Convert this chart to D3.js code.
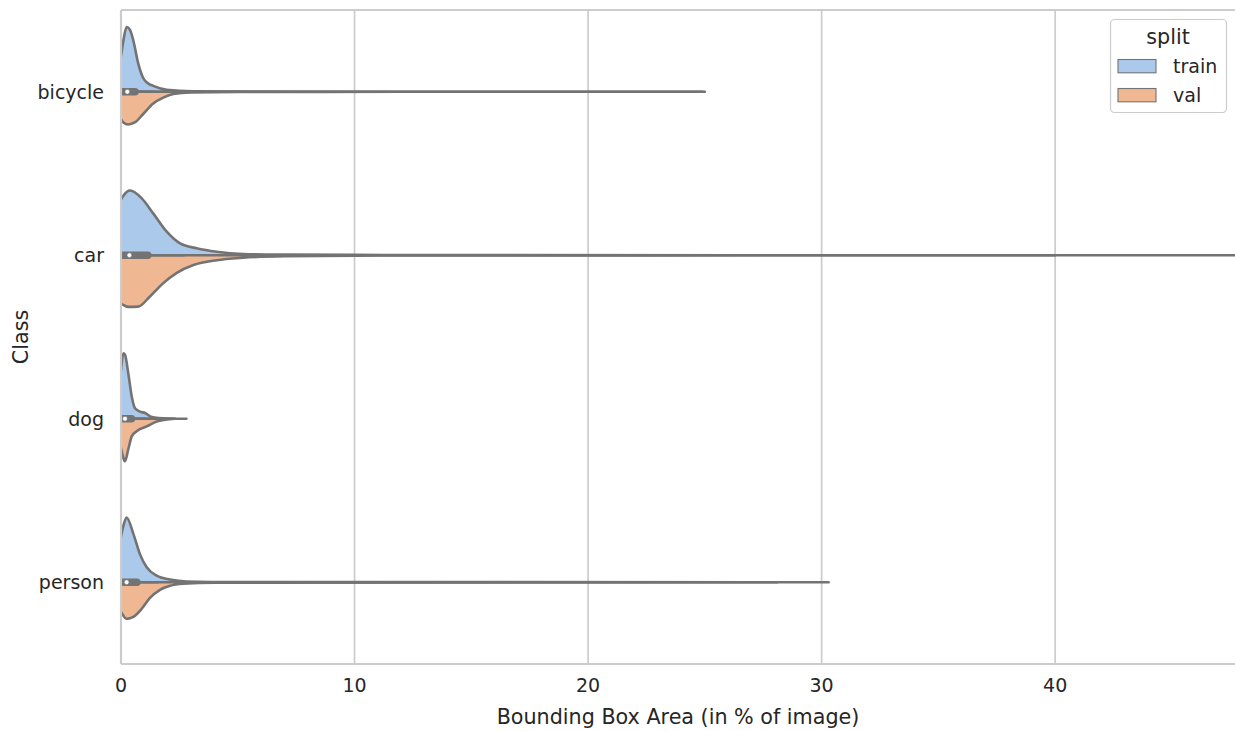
<!DOCTYPE html>
<html>
<head>
<meta charset="utf-8">
<script src="https://cdn.jsdelivr.net/npm/d3@7"></script>
<style>
  html, body { margin: 0; padding: 0; background: #ffffff; }
  svg { display: block; font-family: "DejaVu Sans", sans-serif; }
</style>
</head>
<body>
<svg id="chart" width="1235" height="731"></svg>
<script>
// ---------- data ----------
const categories = ["bicycle", "car", "dog", "person"];
const splits = ["train", "val"];
const xTicks = [0, 10, 20, 30, 40];

// density profiles: [value (% of image), relative density]
const bicycleTrain = [[-0.15,0.3],[0,0.55],[0.1,0.78],[0.24,0.99],[0.38,0.95],[0.53,0.78],[0.74,0.43],[0.95,0.21],[1.15,0.13],[1.38,0.09],[1.96,0.03],[3.1,0.008],[6,0.002],[12,0.001],[25,0]];
const bicycleVal   = [[-0.15,0.3],[0,0.42],[0.1,0.47],[0.31,0.5],[0.59,0.47],[0.95,0.34],[1.38,0.18],[1.81,0.09],[2.24,0.035],[3,0.012],[5,0.003],[12,0.001],[24.9,0]];
const carTrain     = [[-0.15,0.7],[0,0.85],[0.1,0.91],[0.39,0.99],[0.89,0.87],[1.38,0.64],[1.96,0.36],[2.53,0.18],[3.24,0.107],[4.1,0.053],[5.24,0.02],[7,0.01],[10,0.005],[13,0.002],[40,0]];
const carVal       = [[-0.15,0.65],[0,0.74],[0.1,0.76],[0.31,0.79],[0.74,0.785],[1.24,0.63],[1.8,0.43],[2.39,0.27],[3.1,0.15],[4.1,0.076],[5.24,0.038],[7,0.015],[10,0.006],[13,0.002],[55,0]];
const dogTrain     = [[-0.1,0.4],[0,0.75],[0.1,1.0],[0.17,0.98],[0.31,0.7],[0.46,0.34],[0.6,0.16],[0.81,0.11],[1.03,0.087],[1.32,0.026],[1.6,0.012],[2.8,0]];
const dogVal       = [[-0.1,0.3],[0,0.45],[0.1,0.6],[0.17,0.65],[0.31,0.47],[0.46,0.27],[0.67,0.19],[1.1,0.117],[1.53,0.041],[1.9,0.015],[2.3,0]];
const personTrain  = [[-0.15,0.45],[0,0.7],[0.1,0.86],[0.24,0.99],[0.53,0.74],[0.81,0.43],[1.1,0.23],[1.53,0.1],[2.1,0.041],[2.81,0.011],[5,0.003],[30.3,0]];
const personVal    = [[-0.15,0.3],[0,0.45],[0.1,0.51],[0.24,0.56],[0.53,0.53],[0.89,0.405],[1.24,0.24],[1.67,0.116],[2.1,0.055],[2.67,0.024],[4,0.006],[28.1,0]];

// box statistics per class: [q1, median, q3]
const boxQ1     = [0.06, 0.10, 0.05, 0.07];
const boxMedian = [0.27, 0.36, 0.17, 0.24];
const boxQ3     = [0.60, 1.15, 0.45, 0.68];

const densities = {
  bicycle: { train: bicycleTrain, val: bicycleVal },
  car:     { train: carTrain,     val: carVal },
  dog:     { train: dogTrain,     val: dogVal },
  person:  { train: personTrain,  val: personVal }
};

// ---------- layout ----------
const colors = { train: "#abc9ea", val: "#efb792" };
const edge = "#737373";
const textColor = "#262626";
const gridColor = "#cccccc";

const plotLeft = 121, plotTop = 10, plotBottom = 664, plotRight = 1235;
const xMax = 47.7;

const svg = d3.select("#chart");
const x = d3.scaleLinear().domain([0, xMax]).range([plotLeft, plotRight]);
const y = d3.scaleBand().domain(categories).range([plotTop, plotBottom]).padding(0);
const halfWidth = y.bandwidth() * 0.4;
const dScale = d3.scaleLinear().domain([0, 1]).range([0, halfWidth]);

svg.append("defs").append("clipPath").attr("id", "plotclip")
  .append("rect").attr("x", plotLeft).attr("y", plotTop)
  .attr("width", plotRight + 20 - plotLeft).attr("height", plotBottom - plotTop);

// grid
svg.append("g").selectAll("line").data(xTicks).join("line")
  .attr("x1", d => x(d)).attr("x2", d => x(d))
  .attr("y1", plotTop).attr("y2", plotBottom)
  .attr("stroke", gridColor).attr("stroke-width", 1.7);

const plot = svg.append("g").attr("clip-path", "url(#plotclip)");

categories.forEach((cat, i) => {
  const c = y(cat) + y.bandwidth() / 2;
  splits.forEach(s => {
    const sign = s === "train" ? -1 : 1;
    const area = d3.area()
      .x(d => x(d[0]))
      .y0(c)
      .y1(d => c + sign * dScale(d[1]))
      .curve(d3.curveMonotoneX);
    plot.append("path")
      .datum(densities[cat][s])
      .attr("d", area)
      .attr("fill", colors[s])
      .attr("stroke", edge)
      .attr("stroke-width", 2.6)
      .attr("stroke-linejoin", "round");
  });
  // inner box
  const q1 = boxQ1[i], q3 = boxQ3[i], med = boxMedian[i];
  const iqr = q3 - q1;
  plot.append("line")
    .attr("x1", x(Math.max(-0.2, q1 - 1.5 * iqr))).attr("x2", x(q3 + 1.5 * iqr))
    .attr("y1", c).attr("y2", c)
    .attr("stroke", edge).attr("stroke-width", 2.6);
  plot.append("line")
    .attr("x1", x(q1) - 3).attr("x2", x(q3))
    .attr("y1", c).attr("y2", c)
    .attr("stroke", edge).attr("stroke-width", 7.5)
    .attr("stroke-linecap", "round");
  plot.append("circle")
    .attr("cx", x(med)).attr("cy", c).attr("r", 2.4)
    .attr("fill", "#ffffff").attr("stroke", edge).attr("stroke-width", 0.6);
});

// spines
const spines = svg.append("g").attr("stroke", "#cccccc").attr("stroke-width", 2.2);
spines.append("line").attr("x1", plotLeft).attr("x2", plotLeft).attr("y1", plotTop).attr("y2", plotBottom);
spines.append("line").attr("x1", plotLeft).attr("x2", plotRight).attr("y1", plotTop).attr("y2", plotTop);
spines.append("line").attr("x1", plotLeft).attr("x2", plotRight).attr("y1", plotBottom).attr("y2", plotBottom);

// x tick labels
svg.append("g").selectAll("text").data(xTicks).join("text")
  .attr("x", d => x(d)).attr("y", 692)
  .attr("text-anchor", "middle")
  .attr("font-size", 19).attr("fill", textColor)
  .text(d => d);

// y tick labels
svg.append("g").selectAll("text").data(categories).join("text")
  .attr("x", 104).attr("y", d => y(d) + y.bandwidth() / 2)
  .attr("dy", "0.36em")
  .attr("text-anchor", "end")
  .attr("font-size", 19).attr("fill", textColor)
  .text(d => d);

// axis titles
svg.append("text").attr("x", (plotLeft + plotRight) / 2).attr("y", 724)
  .attr("text-anchor", "middle").attr("font-size", 20.7).attr("fill", textColor)
  .text("Bounding Box Area (in % of image)");
svg.append("text")
  .attr("transform", `translate(27.5, ${(plotTop + plotBottom) / 2}) rotate(-90)`)
  .attr("text-anchor", "middle").attr("font-size", 20.7).attr("fill", textColor)
  .text("Class");

// legend
const lg = svg.append("g");
lg.append("rect").attr("x", 1110.5).attr("y", 19.5).attr("width", 116).attr("height", 93)
  .attr("rx", 4).attr("fill", "#ffffff").attr("fill-opacity", 0.8)
  .attr("stroke", "#cccccc").attr("stroke-width", 1.2);
lg.append("text").attr("x", 1168).attr("y", 44).attr("text-anchor", "middle")
  .attr("font-size", 20.7).attr("fill", textColor).text("split");
splits.forEach((s, i) => {
  const yy = 59.5 + i * 29;
  lg.append("rect").attr("x", 1118).attr("y", yy).attr("width", 38).attr("height", 13.3)
    .attr("fill", colors[s]).attr("stroke", edge).attr("stroke-width", 1.1);
  lg.append("text").attr("x", 1173).attr("y", yy + 13)
    .attr("font-size", 19).attr("fill", textColor).text(s);
});
</script>
</body>
</html>
